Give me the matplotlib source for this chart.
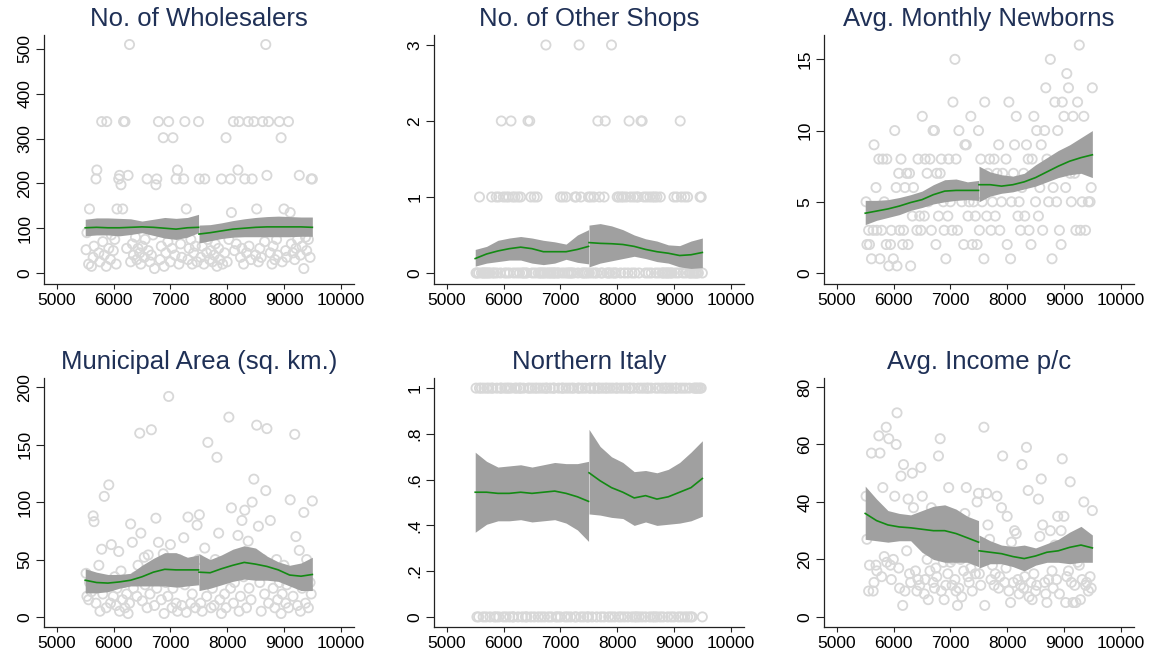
import matplotlib
matplotlib.use('Agg')
from matplotlib import pyplot as plt

plt.rcParams['font.family'] = ['Liberation Sans', 'DejaVu Sans']

# population of each municipality (running variable, cutoff at 7500)
POP = [
    5515, 5530, 5560, 5575, 5610, 5640, 5655, 5690, 5705, 5740,
    5760, 5790, 5810, 5835, 5870, 5880, 5915, 5945, 5960, 5995,
    6020, 6045, 6060, 6090, 6105, 6130, 6160, 6175, 6200, 6230,
    6255, 6280, 6300, 6330, 6350, 6385, 6410, 6430, 6460, 6480,
    6505, 6540, 6555, 6590, 6610, 6640, 6665, 6695, 6720, 6745,
    6760, 6790, 6820, 6840, 6875, 6890, 6920, 6955, 6970, 7000,
    7030, 7045, 7080, 7100, 7125, 7150, 7180, 7200, 7235, 7255,
    7280, 7310, 7330, 7360, 7385, 7410, 7440, 7470, 7495,
    7510, 7535, 7560, 7590, 7605, 7640, 7660, 7690, 7715, 7740,
    7770, 7790, 7820, 7850, 7870, 7900, 7920, 7955, 7980, 8000,
    8030, 8060, 8075, 8110, 8130, 8160, 8190, 8210, 8235, 8260,
    8290, 8310, 8340, 8370, 8385, 8420, 8440, 8470, 8500, 8520,
    8550, 8575, 8600, 8625, 8660, 8680, 8700, 8730, 8760, 8790,
    8810, 8840, 8870, 8890, 8920, 8950, 8970, 9000, 9030, 9050,
    9080, 9110, 9130, 9160, 9190, 9210, 9240, 9270, 9290, 9320,
    9350, 9380, 9400, 9430, 9460, 9480, 9500,
]

WHOLESALERS = [
    52, 90, 20, 143, 15, 35, 60, 210, 230, 45,
    25, 338, 70, 40, 15, 338, 55, 30, 85, 50,
    75, 20, 143, 210, 218, 197, 143, 338, 338, 55,
    218, 510, 25, 65, 40, 80, 30, 55, 45, 20,
    60, 35, 75, 210, 50, 25, 40, 85, 10, 197,
    210, 338, 30, 60, 302, 15, 45, 70, 338, 25,
    55, 302, 40, 210, 230, 20, 65, 35, 210, 338,
    143, 30, 55, 75, 20, 45, 60, 25, 338,
    210, 35, 60, 20, 210, 45, 75, 30, 50, 25,
    40, 65, 15, 55, 30, 210, 20, 45, 302, 25,
    75, 210, 135, 338, 50, 65, 230, 338, 35, 55,
    20, 210, 45, 338, 60, 30, 210, 338, 40, 143,
    25, 55, 35, 338, 70, 510, 218, 338, 45, 20,
    60, 30, 75, 40, 338, 302, 25, 143, 50, 35,
    338, 135, 65, 45, 30, 55, 75, 218, 40, 60,
    10, 80, 50, 75, 35, 210, 210,
]

OTHER_SHOPS = [
    0, 0, 0, 1, 0, 0, 0, 0, 0, 0,
    0, 1, 0, 0, 1, 0, 1, 0, 2, 1,
    0, 1, 0, 1, 0, 2, 1, 0, 1, 0,
    1, 0, 1, 0, 0, 0, 0, 2, 2, 1,
    0, 1, 0, 1, 0, 0, 0, 0, 0, 3,
    0, 0, 0, 0, 0, 0, 0, 0, 0, 1,
    0, 1, 0, 1, 0, 0, 0, 0, 0, 1,
    1, 0, 3, 1, 0, 0, 0, 0, 1,
    0, 1, 0, 1, 0, 0, 2, 1, 0, 0,
    1, 2, 0, 0, 0, 3, 0, 0, 0, 1,
    1, 0, 1, 1, 0, 1, 0, 2, 1, 0,
    1, 0, 1, 1, 0, 2, 2, 1, 0, 1,
    0, 1, 0, 1, 1, 0, 1, 0, 1, 0,
    0, 0, 0, 0, 0, 0, 0, 1, 0, 1,
    0, 2, 1, 0, 1, 0, 1, 0, 0, 0,
    0, 0, 0, 0, 1, 1, 0,
]

NEWBORNS = [
    5, 2, 3, 2, 1, 3, 9, 6, 3, 8,
    1, 3, 8, 5, 2, 8, 0.5, 2, 3, 1,
    10, 6, 0.5, 7, 3, 8, 2, 3, 6, 7,
    2, 7, 0.5, 4, 6, 5, 3, 8, 4, 3,
    11, 4, 8, 7, 5, 8, 3, 10, 10, 2,
    7, 4, 7, 8, 5, 3, 1, 4, 8, 5,
    3, 12, 15, 8, 3, 10, 6, 5, 2, 9,
    9, 4, 5, 11, 2, 5, 4, 2, 10,
    3, 8, 5, 1, 12, 4, 7, 8, 3, 5,
    8, 4, 7, 9, 3, 5, 7, 6, 8, 2,
    12, 1, 5, 7, 9, 11, 4, 5, 3, 6,
    7, 4, 9, 8, 3, 2, 8, 11, 5, 10,
    4, 6, 9, 3, 10, 13, 8, 5, 15, 1,
    6, 12, 5, 10, 3, 2, 12, 11, 6, 14,
    13, 7, 5, 11, 7, 3, 12, 16, 3, 5,
    11, 3, 9, 5, 5, 6, 13,
]

AREA = [
    38, 18, 15, 30, 22, 88, 83, 12, 25, 45,
    5, 59, 20, 105, 8, 30, 115, 12, 63, 18,
    35, 10, 25, 57, 5, 40, 15, 30, 8, 20,
    3, 12, 81, 65, 25, 35, 18, 45, 160, 73,
    14, 52, 28, 8, 54, 20, 163, 35, 10, 86,
    25, 65, 45, 15, 55, 3, 30, 18, 192, 63,
    8, 25, 40, 12, 5, 50, 30, 10, 69, 28,
    4, 87, 45, 12, 20, 35, 8, 80, 50,
    89, 12, 5, 30, 60, 18, 152, 40, 8, 25,
    10, 50, 139, 73, 15, 3, 35, 20, 8, 45,
    174, 25, 95, 12, 30, 40, 71, 5, 18, 84,
    35, 93, 8, 66, 25, 15, 100, 120, 45, 167,
    79, 30, 5, 50, 20, 110, 164, 12, 84, 40,
    25, 8, 50, 15, 30, 3, 20, 45, 12, 28,
    8, 102, 35, 18, 159, 70, 10, 58, 5, 25,
    91, 12, 50, 8, 30, 20, 101,
]

NORTH = [
    1, 0, 0, 1, 1, 0, 1, 0, 1, 1,
    0, 1, 1, 0, 0, 1, 0, 1, 1, 0,
    1, 0, 1, 1, 0, 1, 0, 0, 1, 1,
    0, 1, 1, 0, 1, 0, 0, 1, 1, 0,
    1, 0, 1, 1, 0, 1, 0, 1, 0, 1,
    1, 0, 1, 0, 1, 1, 0, 0, 1, 0,
    1, 1, 0, 1, 0, 1, 0, 1, 1, 0,
    0, 1, 1, 0, 1, 0, 1, 0, 0,
    1, 1, 0, 1, 1, 0, 1, 1, 0, 1,
    0, 1, 1, 0, 1, 0, 1, 0, 1, 1,
    0, 1, 0, 1, 0, 1, 0, 1, 1, 0,
    1, 0, 0, 1, 0, 1, 0, 1, 0, 1,
    1, 0, 1, 0, 0, 1, 0, 1, 0, 1,
    0, 1, 1, 0, 1, 0, 1, 0, 1, 1,
    0, 1, 0, 1, 0, 1, 0, 1, 0, 0,
    1, 1, 1, 1, 1, 1, 0,
]

INCOME = [
    42, 27, 9, 18, 57, 9, 12, 18, 16, 63,
    57, 14, 45, 21, 66, 19, 62, 18, 13, 20,
    42, 60, 71, 17, 10, 49, 4, 53, 9, 23,
    41, 15, 12, 50, 38, 16, 9, 13, 11, 52,
    42, 8, 13, 20, 6, 16, 38, 12, 10, 17,
    14, 56, 62, 9, 19, 6, 11, 15, 45, 19,
    11, 20, 13, 9, 4, 10, 20, 7, 16, 36,
    45, 14, 12, 17, 9, 22, 15, 40, 43,
    15, 11, 25, 66, 4, 43, 32, 27, 13, 18,
    11, 15, 42, 10, 14, 38, 56, 12, 17, 35,
    9, 5, 26, 12, 30, 29, 13, 8, 11, 53,
    10, 14, 59, 44, 7, 12, 6, 15, 9, 11,
    41, 28, 48, 32, 12, 8, 5, 13, 30, 16,
    10, 25, 13, 35, 8, 30, 55, 35, 5, 14,
    16, 47, 12, 5, 11, 5, 19, 18, 6, 13,
    40, 11, 12, 9, 14, 10, 37,
]

# evaluation points of the local fits on each side of the cutoff
GRID_L = [5500, 5700, 5900, 6100, 6300, 6500, 6700, 6900, 7100, 7300, 7496]
GRID_R = [7504, 7700, 7900, 8100, 8300, 8500, 8700, 8900, 9100, 9300, 9500]

WHOLESALERS_FIT_L = [101, 102, 101, 101, 102, 103, 102, 100, 98, 101, 102]
WHOLESALERS_LO_L = [83, 85, 85, 83, 86, 90, 84, 78, 75, 80, 90]
WHOLESALERS_HI_L = [120, 123, 123, 122, 121, 116, 120, 124, 122, 124, 131]
WHOLESALERS_FIT_R = [87, 90, 94, 98, 100, 102, 103, 103, 103, 103, 102]
WHOLESALERS_LO_R = [67, 72, 77, 80, 81, 81, 81, 81, 81, 82, 82]
WHOLESALERS_HI_R = [107, 108, 112, 117, 121, 124, 126, 127, 126, 125, 125]

SHOPS_FIT_L = [0.19, 0.25, 0.29, 0.32, 0.34, 0.32, 0.28, 0.28, 0.28, 0.31, 0.35]
SHOPS_LO_L = [0.09, 0.13, 0.15, 0.17, 0.17, 0.13, 0.11, 0.13, 0.18, 0.14, 0.12]
SHOPS_HI_L = [0.31, 0.35, 0.43, 0.46, 0.48, 0.46, 0.43, 0.41, 0.38, 0.50, 0.57]
SHOPS_FIT_R = [0.40, 0.39, 0.385, 0.375, 0.35, 0.31, 0.28, 0.26, 0.23, 0.24, 0.27]
SHOPS_LO_R = [0.08, 0.13, 0.16, 0.19, 0.22, 0.19, 0.15, 0.13, 0.08, 0.06, 0.07]
SHOPS_HI_R = [0.63, 0.65, 0.62, 0.57, 0.50, 0.45, 0.42, 0.37, 0.36, 0.42, 0.46]

NEWBORNS_FIT_L = [4.2, 4.35, 4.5, 4.7, 4.95, 5.15, 5.5, 5.75, 5.8, 5.8, 5.8]
NEWBORNS_LO_L = [3.4, 3.7, 3.9, 4.1, 4.4, 4.6, 4.85, 5.0, 5.1, 5.15, 5.1]
NEWBORNS_HI_L = [5.1, 5.1, 5.15, 5.3, 5.5, 5.75, 6.2, 6.55, 6.6, 6.4, 6.5]
NEWBORNS_FIT_R = [6.2, 6.2, 6.1, 6.2, 6.4, 6.7, 7.1, 7.5, 7.85, 8.1, 8.3]
NEWBORNS_LO_R = [5.0, 5.4, 5.6, 5.7, 5.9, 6.1, 6.4, 6.7, 6.9, 7.0, 6.7]
NEWBORNS_HI_R = [7.5, 7.1, 6.9, 6.8, 7.0, 7.6, 8.1, 8.6, 9.0, 9.5, 10.0]

AREA_FIT_L = [32, 30, 29.5, 30.5, 32, 35, 39, 41.5, 41, 41, 41]
AREA_LO_L = [21, 21, 22, 25, 27, 27, 27, 27, 26, 27, 28]
AREA_HI_L = [42, 39, 37, 37, 38, 45, 51, 56, 56, 52, 54]
AREA_FIT_R = [39, 38.5, 42, 45, 47.5, 46, 44, 41, 36.5, 35.5, 37]
AREA_LO_R = [23, 25, 28, 31, 33, 32, 32, 31, 27, 23, 23]
AREA_HI_R = [55, 50, 54, 59, 62, 60, 53, 48, 45, 47, 52]

NORTH_FIT_L = [0.545, 0.545, 0.54, 0.54, 0.545, 0.54, 0.545, 0.55, 0.54, 0.525, 0.505]
NORTH_LO_L = [0.37, 0.405, 0.42, 0.42, 0.425, 0.415, 0.42, 0.425, 0.41, 0.38, 0.33]
NORTH_HI_L = [0.72, 0.68, 0.655, 0.66, 0.665, 0.655, 0.665, 0.675, 0.67, 0.67, 0.68]
NORTH_FIT_R = [0.63, 0.595, 0.565, 0.545, 0.52, 0.53, 0.515, 0.525, 0.545, 0.565, 0.605]
NORTH_LO_R = [0.45, 0.445, 0.435, 0.43, 0.40, 0.415, 0.40, 0.405, 0.41, 0.42, 0.44]
NORTH_HI_R = [0.82, 0.745, 0.70, 0.675, 0.635, 0.64, 0.63, 0.645, 0.675, 0.72, 0.77]

INCOME_FIT_L = [36, 33.5, 32, 31.3, 31, 30.5, 30, 30, 29, 27.5, 26]
INCOME_LO_L = [27, 26.5, 26, 26.5, 26.5, 22.5, 20, 19, 19, 19, 17.5]
INCOME_HI_L = [45.5, 41, 37, 36, 35.5, 37, 38.5, 39, 37.5, 35, 33.5]
INCOME_FIT_R = [23, 22.5, 22, 21, 20.3, 21.2, 22.5, 23, 24.2, 25, 24]
INCOME_LO_R = [17, 18.5, 18.5, 17.5, 16, 18, 19, 19, 18.5, 19, 19]
INCOME_HI_R = [28.5, 26.5, 25, 24.5, 25, 24, 25.5, 27, 29.5, 31.5, 28.5]

TITLES = ['No. of Wholesalers', 'No. of Other Shops', 'Avg. Monthly Newborns',
          'Municipal Area (sq. km.)', 'Northern Italy', 'Avg. Income p/c']
X_TICKS = [5000, 6000, 7000, 8000, 9000, 10000]
Y_TICKS = [
    [0, 100, 200, 300, 400, 500],
    [0, 1, 2, 3],
    [0, 5, 10, 15],
    [0, 50, 100, 150, 200],
    [0, 0.2, 0.4, 0.6, 0.8, 1],
    [0, 20, 40, 60, 80],
]
NORTH_TICK_LABELS = ['0', '.2', '.4', '.6', '.8', '1']

PANELS = [
    (WHOLESALERS, WHOLESALERS_FIT_L, WHOLESALERS_LO_L, WHOLESALERS_HI_L,
     WHOLESALERS_FIT_R, WHOLESALERS_LO_R, WHOLESALERS_HI_R, (-24.5, 531)),
    (OTHER_SHOPS, SHOPS_FIT_L, SHOPS_LO_L, SHOPS_HI_L,
     SHOPS_FIT_R, SHOPS_LO_R, SHOPS_HI_R, (-0.145, 3.13)),
    (NEWBORNS, NEWBORNS_FIT_L, NEWBORNS_LO_L, NEWBORNS_HI_L,
     NEWBORNS_FIT_R, NEWBORNS_LO_R, NEWBORNS_HI_R, (-0.77, 16.7)),
    (AREA, AREA_FIT_L, AREA_LO_L, AREA_HI_L,
     AREA_FIT_R, AREA_LO_R, AREA_HI_R, (-8.7, 208)),
    (NORTH, NORTH_FIT_L, NORTH_LO_L, NORTH_HI_L,
     NORTH_FIT_R, NORTH_LO_R, NORTH_HI_R, (-0.044, 1.044)),
    (INCOME, INCOME_FIT_L, INCOME_LO_L, INCOME_HI_L,
     INCOME_FIT_R, INCOME_LO_R, INCOME_HI_R, (-3.5, 83.1)),
]

LEFTS = [0.038, 0.3745, 0.711]
BOTTOMS = [0.5664, 0.0428]
WIDTH, HEIGHT = 0.2675, 0.38

POINT_COLOR = '#d8d8d8'
BAND_COLOR = '#a0a0a0'
FIT_COLOR = '#138a13'
TITLE_COLOR = '#1f3056'
AXIS_COLOR = '#222222'

fig = plt.figure(figsize=(11.59, 6.55), dpi=100)

for i, (y, fit_l, lo_l, hi_l, fit_r, lo_r, hi_r, ylim) in enumerate(PANELS):
    ax = fig.add_axes([LEFTS[i % 3], BOTTOMS[i // 3], WIDTH, HEIGHT])

    ax.scatter(POP, y, s=44, facecolors='none', edgecolors=POINT_COLOR,
               linewidths=1.3, zorder=1, clip_on=False)
    ax.fill_between(GRID_L, lo_l, hi_l, color=BAND_COLOR, lw=0, zorder=2)
    ax.fill_between(GRID_R, lo_r, hi_r, color=BAND_COLOR, lw=0, zorder=2)
    ax.plot(GRID_L, fit_l, color=FIT_COLOR, lw=1.2, zorder=3)
    ax.plot(GRID_R, fit_r, color=FIT_COLOR, lw=1.2, zorder=3)

    ax.set_xlim(4775, 10235)
    ax.set_ylim(*ylim)
    ax.set_xticks(X_TICKS)
    ax.set_yticks(Y_TICKS[i])
    if i == 4:
        ax.set_yticklabels(NORTH_TICK_LABELS)

    for side in ('top', 'right'):
        ax.spines[side].set_visible(False)
    for side in ('left', 'bottom'):
        ax.spines[side].set_color(AXIS_COLOR)
        ax.spines[side].set_linewidth(0.9)
    ax.tick_params(axis='x', direction='out', length=3.8, width=0.8,
                   color=AXIS_COLOR, labelsize=12.5, pad=2.5)
    ax.tick_params(axis='y', direction='out', length=5.5, width=0.8,
                   color=AXIS_COLOR, labelsize=12.5, pad=3)
    for lab in ax.get_yticklabels():
        lab.set_rotation(90)
        lab.set_va('center')

    ax.set_title(TITLES[i], fontsize=18.5, color=TITLE_COLOR, pad=6.5)

fig.savefig('out.png', dpi=100)
